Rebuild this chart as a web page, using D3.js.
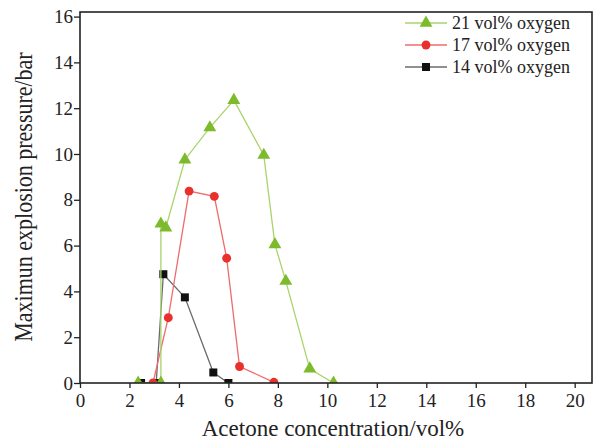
<!DOCTYPE html>
<html>
<head>
<meta charset="utf-8">
<script src="https://cdn.jsdelivr.net/npm/d3@7"></script>
<style>
  body { margin: 0; background: #fff; }
  svg text { font-family: "Liberation Serif", "DejaVu Serif", serif !important; fill: #222; }
</style>
</head>
<body>
<div id="chart"></div>
<script>
// series data (acetone vol%, pressure bar)
var o21x = [2.35, 3.27, 3.27, 3.47, 4.24, 5.25, 6.22, 7.43, 7.88, 8.32, 9.29, 10.25];
var o21y = [0, 0, 6.95, 6.78, 9.75, 11.15, 12.35, 9.95, 6.05, 4.45, 0.62, 0];
var o17x = [2.95, 3.57, 4.41, 5.43, 5.93, 6.45, 7.84];
var o17y = [0, 2.85, 8.38, 8.15, 5.45, 0.72, 0.03];
var o14x = [2.47, 3.08, 3.37, 4.24, 5.39, 6.0];
var o14y = [0, 0, 4.75, 3.74, 0.46, 0];
var seriesNames = ["21 vol% oxygen", "17 vol% oxygen", "14 vol% oxygen"];
var xTicks = [0, 2, 4, 6, 8, 10, 12, 14, 16, 18, 20];
var yTicks = [0, 2, 4, 6, 8, 10, 12, 14, 16];

var W = 596, H = 442;
var margin = {top: 12, right: 4, bottom: 59, left: 80};
var width = W - margin.left - margin.right;
var height = H - margin.top - margin.bottom;

var svg = d3.select("#chart").append("svg")
  .attr("width", W).attr("height", H);
var g = svg.append("g")
  .attr("transform", "translate(" + margin.left + "," + margin.top + ")");

var x = d3.scaleLinear().domain([0, 20.7]).range([0, width]);
var y = d3.scaleLinear().domain([0, 16.2]).range([height, 0]);

g.append("clipPath").attr("id", "clip")
  .append("rect").attr("width", width).attr("height", height);

var series = [
  {name: seriesNames[0], xs: o21x, ys: o21y, line: "#a9d46c", fill: "#7dbb2c", shape: d3.symbolTriangle, size: 72},
  {name: seriesNames[1], xs: o17x, ys: o17y, line: "#f06b6b", fill: "#e8312c", shape: d3.symbolCircle, size: 62},
  {name: seriesNames[2], xs: o14x, ys: o14y, line: "#6b6b6b", fill: "#111111", shape: d3.symbolSquare, size: 64}
];

var lineGen = d3.line().x(d => x(d[0])).y(d => y(d[1]));
var plot = g.append("g").attr("clip-path", "url(#clip)");

series.slice().reverse().forEach(function(s) {
  var pts = s.xs.map((v, i) => [v, s.ys[i]]);
  plot.append("path")
    .attr("d", lineGen(pts))
    .attr("fill", "none")
    .attr("stroke", s.line)
    .attr("stroke-width", 1.3);
  plot.selectAll(null).data(pts).enter().append("path")
    .attr("transform", d => "translate(" + x(d[0]) + "," + y(d[1]) + ")")
    .attr("d", d3.symbol().type(s.shape).size(s.size))
    .attr("fill", s.fill);
});

// axes
var xAxis = g.append("g").attr("transform", "translate(0," + height + ")")
  .call(d3.axisBottom(x).tickValues(xTicks).tickSize(5).tickPadding(6));
var yAxis = g.append("g")
  .call(d3.axisLeft(y).tickValues(yTicks).tickSize(6).tickPadding(1));
[xAxis, yAxis].forEach(function(a) {
  a.attr("font-family", "Liberation Serif").attr("font-size", 19);
  a.select(".domain").remove();
  a.selectAll("line").attr("stroke", "#222").attr("stroke-width", 1.3);
  a.selectAll("text").attr("fill", "#222");
});

// frame
g.append("rect").attr("width", width).attr("height", height)
  .attr("fill", "none").attr("stroke", "#222").attr("stroke-width", 1.6);

// axis titles
svg.append("text")
  .attr("x", margin.left + width / 2 - 3).attr("y", 436)
  .attr("text-anchor", "middle").style("font-size", "23px")
  .text("Acetone concentration/vol%");
svg.append("text")
  .attr("transform", "translate(32,197) scale(1.15,1) rotate(-90)")
  .attr("text-anchor", "middle").style("font-size", "22px")
  .text("Maximun explosion pressure/bar");

// legend
var legend = svg.append("g").attr("transform", "translate(405,23)");
series.forEach(function(s, i) {
  var row = legend.append("g").attr("transform", "translate(0," + (i * 22) + ")");
  row.append("line").attr("x1", 0).attr("x2", 42)
    .attr("stroke", s.line).attr("stroke-width", 1.3);
  row.append("path").attr("transform", "translate(21,0)")
    .attr("d", d3.symbol().type(s.shape).size(s.size)).attr("fill", s.fill);
  row.append("text").attr("x", 47).attr("y", 6)
    .style("font-size", "18px").text(s.name);
});
</script>
</body>
</html>
